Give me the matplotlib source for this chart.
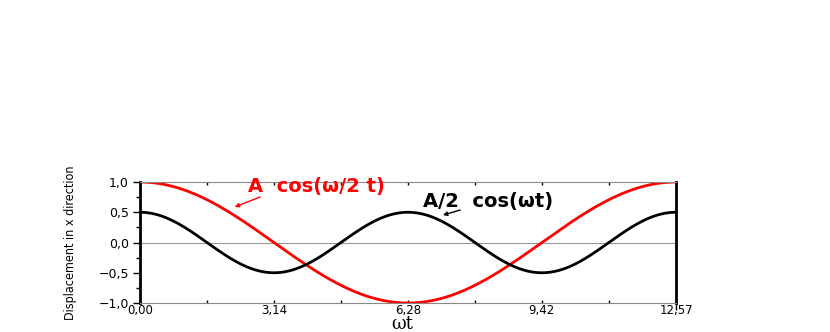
import numpy as np
import matplotlib.pyplot as plt
from matplotlib.ticker import FixedLocator

# curve parameters (A = 1)
amplitudes = [1.0, 0.5]
freq_factors = [0.5, 1.0]
curve_colors = ['#ff0000', '#000000']
curve_labels = ['A  cos(\u03c9/2 t)', 'A/2  cos(\u03c9t)']

x_ticks = [0.0, 3.14, 6.28, 9.42, 12.57]
x_ticklabels = ['0,00', '3,14', '6,28', '9,42', '12,57']
y_ticks = [-1.0, -0.5, 0.0, 0.5, 1.0]
y_ticklabels = ['\u22121,0', '\u22120,5', '0,0', '0,5', '1,0']

t = np.linspace(0, 4 * np.pi, 600)

fig = plt.figure(figsize=(8.3, 3.32), dpi=100)
ax = fig.add_axes([0.1687, 0.0873, 0.6458, 0.3645])

for amp, k, c in zip(amplitudes, freq_factors, curve_colors):
    ax.plot(t, amp * np.cos(k * t), color=c, lw=2)

ax.axhline(0, color='#999999', lw=0.8, zorder=0)
ax.set_xlim(0, 4 * np.pi)
ax.set_ylim(-1.0, 1.0)

ax.set_xticks(x_ticks)
ax.set_xticklabels(x_ticklabels)
ax.set_yticks(y_ticks)
ax.set_yticklabels(y_ticklabels)
ax.xaxis.set_minor_locator(FixedLocator([1.57, 4.71, 7.85, 11.0]))
ax.yaxis.set_minor_locator(FixedLocator([-0.75, -0.25, 0.25, 0.75]))

for s in ['top', 'bottom']:
    ax.spines[s].set_color('#888888')
    ax.spines[s].set_linewidth(0.8)
for s in ['left', 'right']:
    ax.spines[s].set_color('black')
    ax.spines[s].set_linewidth(2)

ax.tick_params(axis='y', which='both', direction='out', left=True, right=True,
               length=5, width=1, labelsize=9, pad=3)
ax.tick_params(axis='y', which='minor', length=3)
ax.tick_params(axis='x', which='both', direction='in', top=True, bottom=True,
               length=2, width=1, labelsize=8.5, pad=1)
for tk in ax.yaxis.get_major_ticks() + ax.yaxis.get_minor_ticks():
    tk.tick2line.set_marker(3)  # right ticks point inward
for lbl in ax.get_xticklabels() + ax.get_yticklabels():
    lbl.set_fontfamily('DejaVu Sans')

ax.set_ylabel('Displacement in x direction', fontsize=9,
              family='DejaVu Sans', fontstretch='condensed')
ax.yaxis.set_label_coords(-0.118, 0.5)
ax.set_xlabel('\u03c9t', fontsize=13, family='DejaVu Serif', va='center')
ax.xaxis.set_label_coords(0.489, -0.175)

ax.text(4.13, 0.92, curve_labels[0], color=curve_colors[0], fontsize=14,
        fontweight='bold', family='DejaVu Sans', ha='center', va='center')
ax.annotate('', xy=(2.16, 0.57), xytext=(2.88, 0.77),
            arrowprops=dict(arrowstyle='-|>', color=curve_colors[0], lw=1,
                            mutation_scale=6))
ax.text(8.16, 0.67, curve_labels[1], color=curve_colors[1], fontsize=14,
        fontweight='bold', family='DejaVu Sans', ha='center', va='center')
ax.annotate('', xy=(7.04, 0.44), xytext=(7.57, 0.55),
            arrowprops=dict(arrowstyle='-|>', color=curve_colors[1], lw=1,
                            mutation_scale=6))

fig.savefig('out.png', dpi=100)
